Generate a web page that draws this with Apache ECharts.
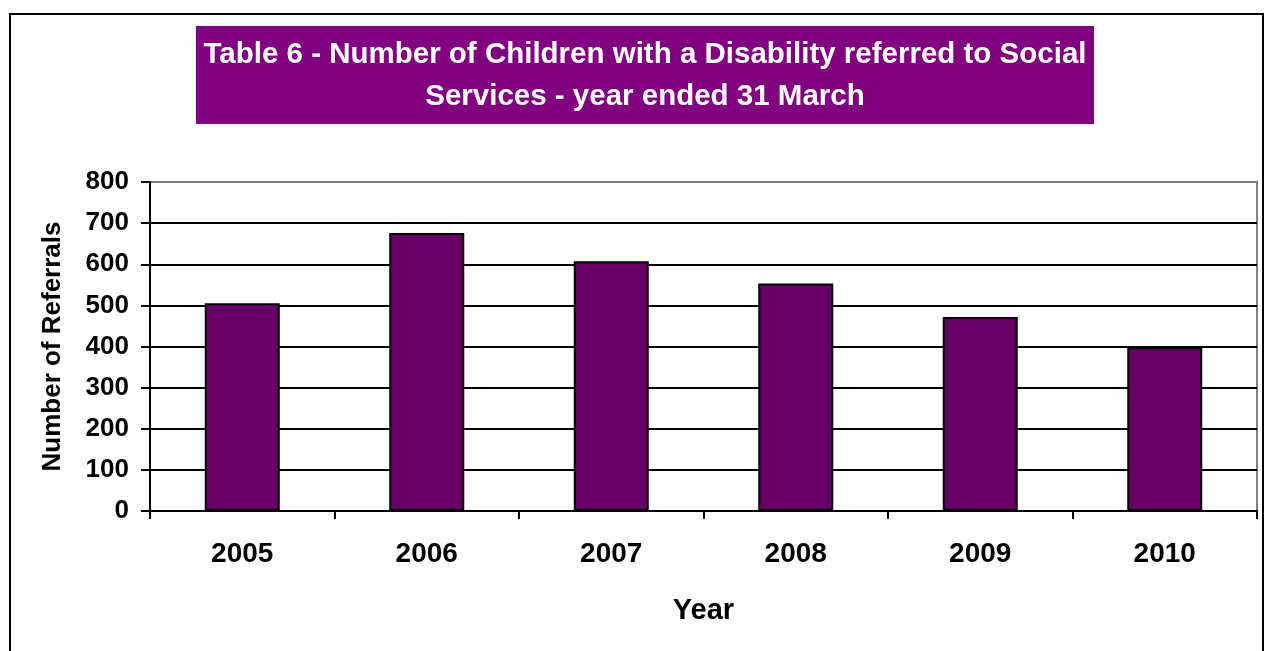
<!DOCTYPE html>
<html>
<head>
<meta charset="utf-8">
<script src="https://cdn.jsdelivr.net/npm/echarts@6/dist/echarts.min.js"></script>
<style>
	html, body { margin: 0; padding: 0; background: #fff; }
	#chart { width: 1265px; height: 651px; }
</style>
</head>
<body>
<div id="chart"></div>
<script>
	// data
	var years = ['2005', '2006', '2007', '2008', '2009', '2010'];
	var referrals = [505, 676, 607, 553, 472, 398];
	var yTicks = [0, 100, 200, 300, 400, 500, 600, 700, 800];

	var font = 'Liberation Sans, Arial, sans-serif';
	// top gridline is grey (plot border), the rest black
	var splitColors = yTicks.map(function (v, i) {
		return i === yTicks.length - 1 ? '#808080' : '#000';
	});

	var myChart = echarts.init(document.getElementById('chart'));
	myChart.setOption({
		animation: false,
		backgroundColor: '#fff',
		graphic: [
			{
				type: 'rect',
				shape: { x: 10, y: 14, width: 1253, height: 700 },
				style: { fill: 'none', stroke: '#000', lineWidth: 2 }
			},
			{
				type: 'rect',
				shape: { x: 196, y: 26, width: 898, height: 98 },
				style: { fill: '#800080' }
			},
			{
				type: 'text',
				x: 645,
				y: 76,
				style: {
					text: 'Table 6 - Number of Children with a Disability referred to Social\nServices - year ended 31 March',
					fill: '#fff',
					font: 'bold 29.5px ' + font,
					align: 'center',
					verticalAlign: 'middle',
					lineHeight: 42
				}
			}
		],
		grid: {
			left: 150,
			right: 8,
			top: 182,
			bottom: 140,
			show: true,
			borderColor: '#808080',
			borderWidth: 2
		},
		xAxis: {
			type: 'category',
			data: years,
			name: 'Year',
			nameLocation: 'middle',
			nameGap: 85,
			nameTextStyle: { fontFamily: font, fontWeight: 'bold', fontSize: 29, color: '#000' },
			axisLine: { lineStyle: { color: '#000', width: 2 } },
			axisTick: { show: true, interval: 0, length: 8, lineStyle: { color: '#000', width: 2 } },
			axisLabel: { fontFamily: font, fontWeight: 'bold', fontSize: 28, color: '#000', margin: 29 }
		},
		yAxis: {
			type: 'value',
			min: 0,
			max: 800,
			interval: 100,
			name: 'Number of Referrals',
			nameLocation: 'middle',
			nameGap: 84,
			nameTextStyle: { fontFamily: font, fontWeight: 'bold', fontSize: 26, color: '#000' },
			axisLine: { show: true, lineStyle: { color: '#000', width: 2 } },
			axisTick: { show: true, inside: false, length: 9, lineStyle: { color: '#000', width: 2 } },
			axisLabel: { fontFamily: font, fontWeight: 'bold', fontSize: 26, color: '#000', margin: 21 },
			splitLine: { show: true, lineStyle: { color: splitColors, width: 2 } }
		},
		series: [{
			type: 'bar',
			data: referrals,
			barWidth: 75,
			itemStyle: { color: '#660066', borderColor: '#000', borderWidth: 2 }
		}]
	});
</script>
</body>
</html>
